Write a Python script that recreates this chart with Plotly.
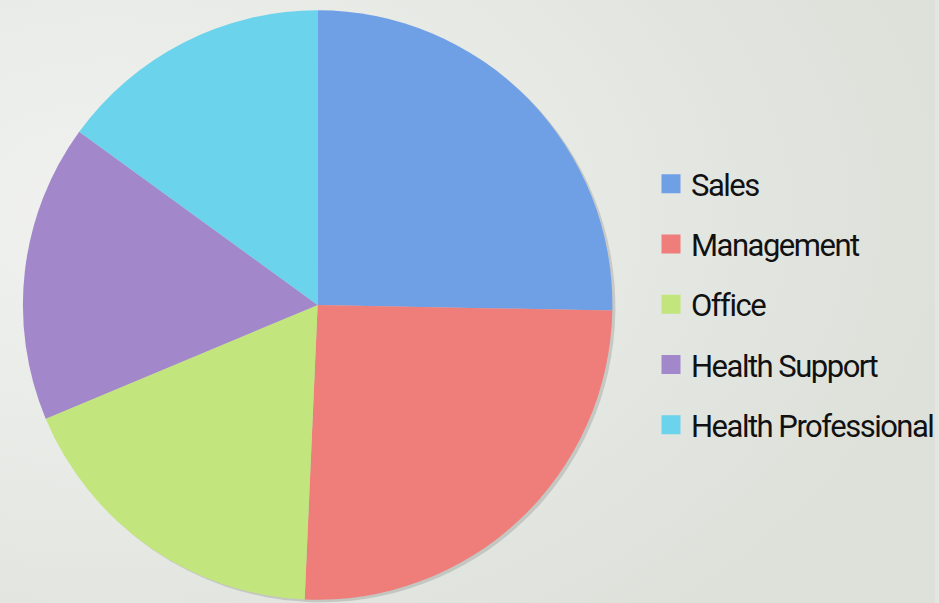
import base64

import plotly.graph_objects as go

# ---- data ---------------------------------------------------------------------
LABELS = ["Sales", "Management", "Office", "Health Support", "Health Professional"]
VALUES = [25.3, 25.4, 18.0, 16.3, 15.0]
COLORS = ["#6fa0e6", "#ef7d7a", "#c3e57e", "#a287cb", "#6bd3ec"]

# ---- look ---------------------------------------------------------------------
W, H = 939, 603
FONT = "Roboto, Lato, sans-serif"
INK = "#111111"

# pie box in pixels -> paper domain
CX, CY, R = 319.0, 305.0, 296.0
dom_x = [(CX - R) / W, (CX + R) / W]
dom_y = [1 - (CY + R) / H, 1 - (CY - R) / H]

# soft background wash (lighter on the left, like the slide)
bg_svg = (
    '<svg xmlns="http://www.w3.org/2000/svg" width="939" height="603">'
    '<defs><radialGradient id="g" cx="0.12" cy="0.35" r="0.9">'
    '<stop offset="0" stop-color="#f1f2f0"/>'
    '<stop offset="0.55" stop-color="#e6e9e4"/>'
    '<stop offset="1" stop-color="#dde1da"/>'
    '</radialGradient></defs>'
    '<rect width="939" height="603" fill="url(#g)"/></svg>'
)
bg_src = "data:image/svg+xml;base64," + base64.b64encode(bg_svg.encode()).decode()

fig = go.Figure()

# faint drop shadow, same slices shifted a touch down/right
sh = 3.0
fig.add_trace(go.Pie(
    labels=LABELS, values=VALUES, sort=False, direction="clockwise", rotation=0,
    marker=dict(colors=["rgba(60,60,60,0.18)"] * len(LABELS), line=dict(width=0)),
    textinfo="none", hoverinfo="skip", showlegend=False,
    domain=dict(x=[dom_x[0] + sh / W, min(1, dom_x[1] + sh / W)],
                y=[max(0, dom_y[0] - sh / H), dom_y[1] - sh / H]),
))

fig.add_trace(go.Pie(
    labels=LABELS, values=VALUES, sort=False, direction="clockwise", rotation=0,
    marker=dict(colors=COLORS, line=dict(width=0)),
    textinfo="none", showlegend=False,
    domain=dict(x=dom_x, y=dom_y),
))

# legend entries (separate groups so the rows can be spaced out)
for name, col in zip(LABELS, COLORS):
    fig.add_trace(go.Scatter(
        x=[None], y=[None], mode="markers",
        name=f"<span style='letter-spacing:-1.5px'>{name}</span>", legendgroup=name,
        marker=dict(symbol="square", size=16, color=col, line=dict(color=col, width=3)),
    ))

fig.update_layout(
    width=W, height=H,
    margin=dict(l=0, r=0, t=0, b=0),
    paper_bgcolor="#e3e6e1", plot_bgcolor="rgba(0,0,0,0)",
    font=dict(family=FONT, color=INK),
    xaxis=dict(visible=False), yaxis=dict(visible=False),
    showlegend=True,
    legend=dict(
        x=654 / W, xanchor="left", y=1 - 304.5 / H, yanchor="middle",
        font=dict(family=FONT, size=31, color=INK),
        bgcolor="rgba(0,0,0,0)", tracegroupgap=17, itemsizing="trace",
    ),
    images=[dict(source=bg_src, xref="paper", yref="paper", x=0, y=1,
                 sizex=1, sizey=1, sizing="stretch", layer="below")],
)

fig.write_html(
    "out.html",
    config={"displayModeBar": False},
    post_script="document.body.style.margin='0';document.body.style.overflow='hidden';",
)
